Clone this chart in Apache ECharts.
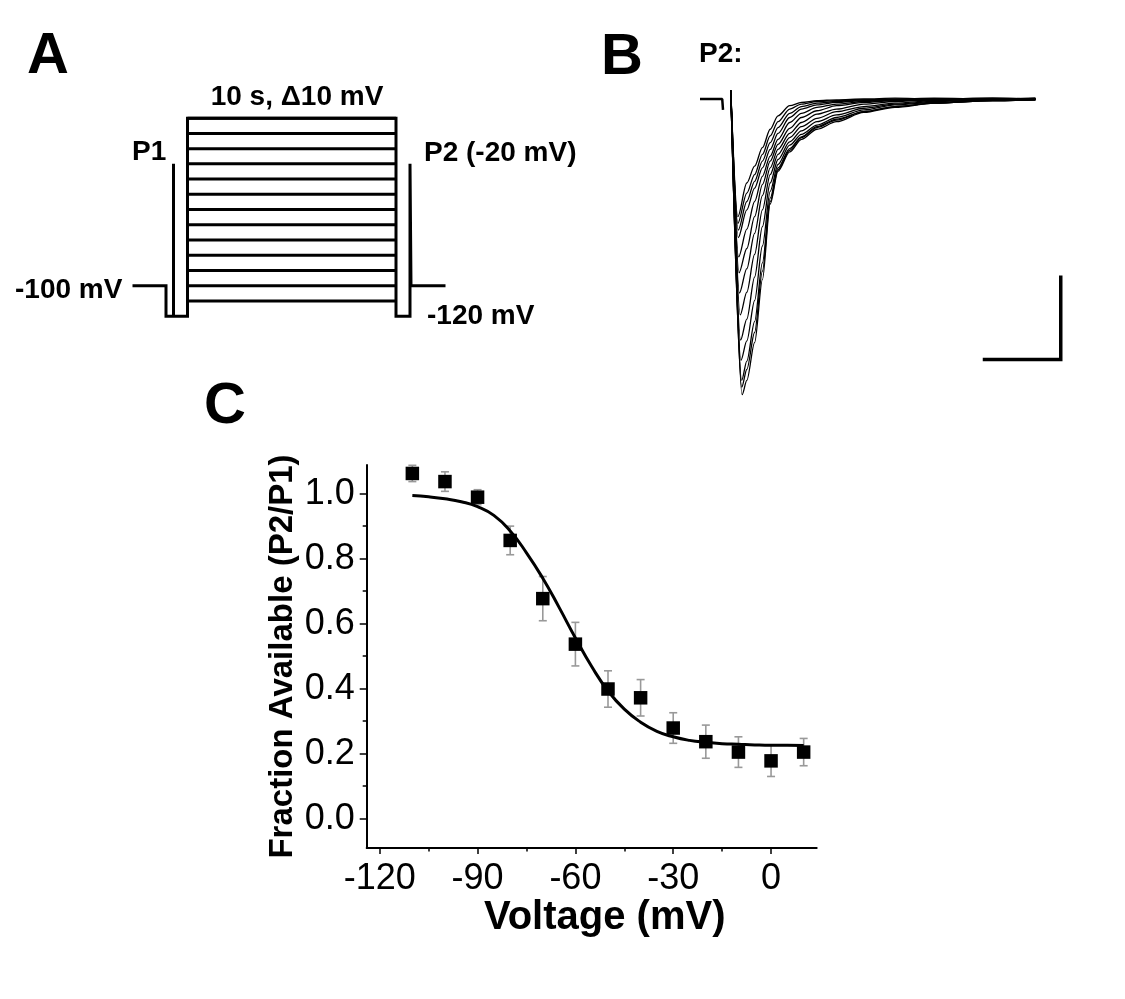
<!DOCTYPE html>
<html><head><meta charset="utf-8">
<script src="https://cdn.jsdelivr.net/npm/echarts@6/dist/echarts.min.js"></script>
<style>html,body{margin:0;padding:0;background:#fff}#c{width:1125px;height:999px}</style>
</head><body><div id="c"></div>
<script>
// ---------- Panel C : steady-state inactivation ----------
const voltages     = [-110,-100,-90,-80,-70,-60,-50,-40,-30,-20,-10,0,10];
const fractionMean = [1.062,1.037,0.989,0.856,0.677,0.537,0.399,0.372,0.279,0.237,0.205,0.178,0.205];
const fractionErr  = [0.025,0.030,0.023,0.044,0.068,0.067,0.056,0.056,0.047,0.051,0.047,0.048,0.042];
const fitVoltages  = [-110,-105,-100,-95,-90,-85,-80,-75,-70,-65,-60,-55,-50,-45,-40,-35,-30,-25,-20,-15,-10,-5,0,5,10];
const fitValues    = [0.994,0.990,0.984,0.975,0.960,0.933,0.885,0.818,0.740,0.650,0.556,0.468,0.393,0.337,0.297,0.269,0.252,0.241,0.235,0.231,0.229,0.227,0.226,0.226,0.225];
const xTicks       = [-120,-90,-60,-30,0];
const xMinorTicks  = [-105,-75,-45,-15];
const yTicks       = [0,0.2,0.4,0.6,0.8,1.0];
const yMinorTicks  = [0.1,0.3,0.5,0.7,0.9];

// ---------- Panel A : voltage protocol (schematic time units, mV) ----------
const protocolTimes = [0,32,32,39.5,39.5,39.5,53.5,53.5,262,262,276,276,277,310];
const protocolMV    = [-100,-100,-120,-120,-20,-120,-120,10,10,-120,-120,-20,-100,-100];
const stepStart = 53.5, stepEnd = 262;
const stepLevels = [-110,-100,-90,-80,-70,-60,-50,-40,-30,-20,-10,0,10];

// ---------- Panel B : P2 current traces (ms, nA) ----------
const artifactTimes = [0,0.57,0.59];
const artifactNA    = [0,0,-0.13];
const spikeTime = 0.79, spikeNA = 0.1;
const troughTimes = [0.97,0.97,0.98,0.98,0.99,1.00,1.01,1.03,1.04,1.05,1.07,1.07,1.08];
const troughNA    = [-1.40,-1.48,-1.56,-1.65,-1.88,-2.07,-2.31,-2.57,-2.87,-3.11,-3.35,-3.43,-3.52];
const recoveryTimes = [1.2,1.4,1.6,1.8,2.0,2.3,2.6,3.0,3.5,4.2,5.0,6.0,7.5,8.6];
const recoveryNA = [
 [-1.00,-0.80,-0.58,-0.36,-0.20,-0.08,-0.04,-0.02,-0.01,0.00,0.01,0.00,0.01,0.00],
 [-1.12,-0.90,-0.66,-0.44,-0.27,-0.12,-0.06,-0.03,-0.02,-0.01,0.00,0.01,0.00,0.01],
 [-1.22,-0.98,-0.74,-0.52,-0.34,-0.17,-0.09,-0.05,-0.03,-0.01,-0.01,0.00,-0.01,0.00],
 [-1.32,-1.06,-0.82,-0.60,-0.41,-0.22,-0.12,-0.07,-0.04,-0.02,-0.01,-0.01,0.00,-0.01],
 [-1.55,-1.22,-0.92,-0.68,-0.48,-0.28,-0.17,-0.10,-0.06,-0.03,-0.01,0.00,0.01,0.00],
 [-1.78,-1.40,-1.02,-0.74,-0.54,-0.35,-0.22,-0.14,-0.08,-0.04,-0.02,-0.01,0.00,0.01],
 [-2.02,-1.60,-1.15,-0.82,-0.60,-0.41,-0.28,-0.18,-0.12,-0.06,-0.03,-0.01,-0.01,0.00],
 [-2.30,-1.85,-1.32,-0.90,-0.66,-0.46,-0.33,-0.23,-0.15,-0.09,-0.05,-0.02,0.00,-0.01],
 [-2.62,-2.12,-1.52,-1.00,-0.72,-0.51,-0.38,-0.27,-0.19,-0.11,-0.06,-0.03,-0.01,0.00],
 [-2.88,-2.40,-1.75,-1.10,-0.78,-0.55,-0.42,-0.31,-0.22,-0.13,-0.07,-0.04,-0.02,0.00],
 [-3.12,-2.65,-1.95,-1.18,-0.82,-0.59,-0.45,-0.33,-0.24,-0.15,-0.09,-0.05,-0.02,-0.01],
 [-3.22,-2.78,-2.05,-1.22,-0.84,-0.61,-0.46,-0.34,-0.25,-0.15,-0.09,-0.05,-0.02,0.00],
 [-3.35,-2.90,-2.15,-1.25,-0.86,-0.63,-0.48,-0.36,-0.27,-0.16,-0.10,-0.05,-0.02,-0.01]
];
const scaleBarStart = 7.25, scaleBarMs = 2, scaleBarBottomNA = -3.1, scaleBarNA = 1;

// ---------- build ----------
const FONT = '"Liberation Sans", Arial, Helvetica, sans-serif';
const chart = echarts.init(document.getElementById('c'), null, {renderer:'canvas'});

const hiddenAxis = (gi, min, max) => ({gridIndex:gi, type:'value', min, max,
  axisLine:{show:false}, axisTick:{show:false}, axisLabel:{show:false}, splitLine:{show:false}});

const series = [];
// Panel A
series.push({type:'line', xAxisIndex:0, yAxisIndex:0, symbol:'none', silent:true,
  data: protocolTimes.map((t,i)=>[t, protocolMV[i]]),
  lineStyle:{color:'#000', width:3, join:'miter', cap:'square'}});
stepLevels.forEach(v => series.push({type:'line', xAxisIndex:0, yAxisIndex:0, symbol:'none', silent:true,
  data:[[stepStart,v],[stepEnd,v]], lineStyle:{color:'#000', width:3}}));

// Panel B
series.push({type:'line', xAxisIndex:1, yAxisIndex:1, symbol:'none', silent:true,
  data: artifactTimes.map((t,i)=>[t, artifactNA[i]]), lineStyle:{color:'#000', width:2.5}});
troughNA.forEach((d,i) => {
  const pts = [[spikeTime, spikeNA],[troughTimes[i], d]].concat(recoveryTimes.map((t,j)=>[t, recoveryNA[i][j]]));
  series.push({type:'line', xAxisIndex:1, yAxisIndex:1, symbol:'none', silent:true, smooth:0.3, smoothMonotone:'x',
    data: pts, lineStyle:{color:'#000', width:1.3}});
});
series.push({type:'line', xAxisIndex:1, yAxisIndex:1, symbol:'none', silent:true,
  data:[[scaleBarStart, scaleBarBottomNA],[scaleBarStart+scaleBarMs, scaleBarBottomNA],[scaleBarStart+scaleBarMs, scaleBarBottomNA+scaleBarNA]],
  lineStyle:{color:'#000', width:3.5, join:'miter'}});

// Panel C
series.push({type:'custom', xAxisIndex:2, yAxisIndex:2, z:1, silent:true,
  data: voltages.map((v,i)=>[v, fractionMean[i]-fractionErr[i], fractionMean[i]+fractionErr[i]]),
  encode:{x:0, y:[1,2]},
  renderItem(params, api){
    const x = api.value(0);
    const lo = api.coord([x, api.value(1)]), hi = api.coord([x, api.value(2)]);
    const hw = 4, st = {stroke:'#999', lineWidth:1.6};
    return {type:'group', children:[
      {type:'line', shape:{x1:lo[0],y1:lo[1],x2:hi[0],y2:hi[1]}, style:st},
      {type:'line', shape:{x1:hi[0]-hw,y1:hi[1],x2:hi[0]+hw,y2:hi[1]}, style:st},
      {type:'line', shape:{x1:lo[0]-hw,y1:lo[1],x2:lo[0]+hw,y2:lo[1]}, style:st}
    ]};
  }});
series.push({type:'line', xAxisIndex:2, yAxisIndex:2, z:2, symbol:'none', silent:true, smooth:0.5,
  data: fitVoltages.map((v,i)=>[v, fitValues[i]]), lineStyle:{color:'#000', width:3}});
series.push({type:'scatter', xAxisIndex:2, yAxisIndex:2, z:3, symbol:'rect', symbolSize:13.5, silent:true,
  data: voltages.map((v,i)=>[v, fractionMean[i]]), itemStyle:{color:'#000', opacity:1}});

const option = {
  animation:false,
  backgroundColor:'#fff',
  grid:[
    {left:134, top:102.94, width:310, height:228.45, outerBoundsMode:'none'},
    {left:700, top:82.2, width:390, height:336, outerBoundsMode:'none'},
    {left:366.7, top:465, width:450, height:383, outerBoundsMode:'none'}
  ],
  xAxis:[
    hiddenAxis(0, 0, 310),
    hiddenAxis(1, 0, 10),
    {gridIndex:2, type:'value', min:-124, max:14, position:'bottom',
     axisLine:{show:true, onZero:false, lineStyle:{color:'#000', width:2}},
     axisTick:{show:true, customValues:xTicks, length:6, lineStyle:{color:'#000', width:1.5}},
     axisLabel:{show:true, customValues:xTicks, fontSize:36, color:'#000', fontFamily:FONT, margin:13},
     splitLine:{show:false},
     name:'Voltage (mV)', nameLocation:'middle', nameGap:48,
     nameTextStyle:{fontSize:40, fontWeight:'bold', color:'#000', fontFamily:FONT, padding:[0,0,0,26]}},
    {gridIndex:2, type:'value', min:-124, max:14, position:'bottom',
     axisLine:{show:false, onZero:false},
     axisTick:{show:true, customValues:xMinorTicks, length:3.5, lineStyle:{color:'#000', width:1.5}},
     axisLabel:{show:false}, splitLine:{show:false}}
  ],
  yAxis:[
    hiddenAxis(0, -130, 20),
    hiddenAxis(1, -3.8, 0.2),
    {gridIndex:2, type:'value', min:-0.09, max:1.088, position:'left',
     axisLine:{show:true, onZero:false, lineStyle:{color:'#000', width:2}},
     axisTick:{show:true, customValues:yTicks, length:7, lineStyle:{color:'#000', width:1.5}},
     axisLabel:{show:true, customValues:yTicks, fontSize:36, color:'#000', fontFamily:FONT, margin:12,
       formatter:v=>Number(v).toFixed(1)},
     splitLine:{show:false},
     name:'Fraction Available (P2/P1)', nameLocation:'middle', nameRotate:90, nameGap:67,
     nameTextStyle:{fontSize:33, fontWeight:'bold', color:'#000', fontFamily:FONT}},
    {gridIndex:2, type:'value', min:-0.09, max:1.088, position:'left',
     axisLine:{show:false, onZero:false},
     axisTick:{show:true, customValues:yMinorTicks, length:4, lineStyle:{color:'#000', width:1.5}},
     axisLabel:{show:false}, splitLine:{show:false}}
  ],
  graphic:[
    {type:'text', x:27, y:57, style:{text:'A', font:'bold 58px '+FONT, fill:'#000', align:'left', verticalAlign:'middle'}},
    {type:'text', x:601, y:58, style:{text:'B', font:'bold 58px '+FONT, fill:'#000', align:'left', verticalAlign:'middle'}},
    {type:'text', x:204, y:407, style:{text:'C', font:'bold 58px '+FONT, fill:'#000', align:'left', verticalAlign:'middle'}},
    {type:'text', x:297, y:97, style:{text:'10 s, \u039410 mV', font:'bold 28px '+FONT, fill:'#000', align:'center', verticalAlign:'middle'}},
    {type:'text', x:132, y:152, style:{text:'P1', font:'bold 28px '+FONT, fill:'#000', align:'left', verticalAlign:'middle'}},
    {type:'text', x:424, y:153, style:{text:'P2 (-20 mV)', font:'bold 28px '+FONT, fill:'#000', align:'left', verticalAlign:'middle'}},
    {type:'text', x:15, y:290, style:{text:'-100 mV', font:'bold 28px '+FONT, fill:'#000', align:'left', verticalAlign:'middle'}},
    {type:'text', x:427, y:316, style:{text:'-120 mV', font:'bold 28px '+FONT, fill:'#000', align:'left', verticalAlign:'middle'}},
    {type:'text', x:699, y:54, style:{text:'P2:', font:'bold 28px '+FONT, fill:'#000', align:'left', verticalAlign:'middle'}}
  ],
  series
};
chart.setOption(option);
</script></body></html>
